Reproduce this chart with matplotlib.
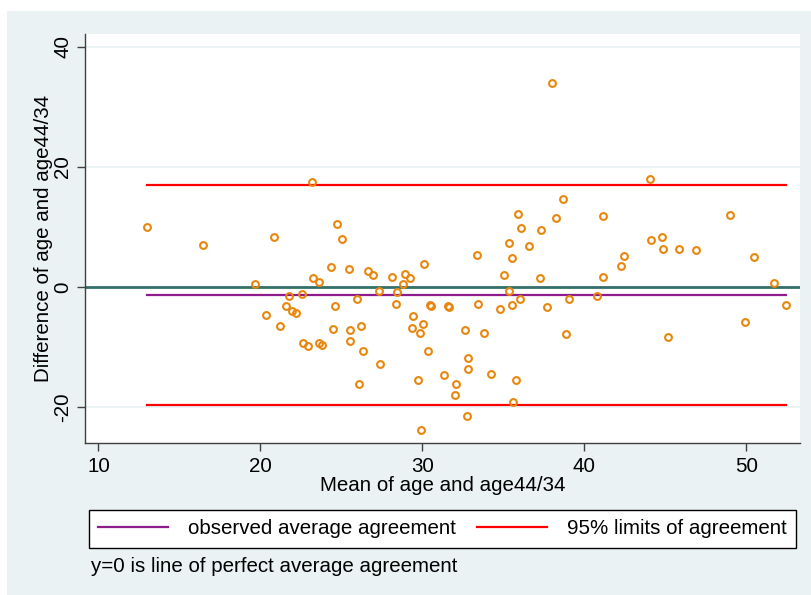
import matplotlib
matplotlib.use("Agg")
import matplotlib.pyplot as plt
from matplotlib.lines import Line2D
from matplotlib.patches import Rectangle

plt.rcParams['font.family'] = ['Liberation Sans', 'DejaVu Sans']
plt.rcParams['axes.unicode_minus'] = False

# Mean of age and age44/34 (x) and difference (y)
mean_vals = [13.0, 16.48, 19.69, 20.33, 20.81, 21.21, 21.58, 21.78, 21.97, 22.17,
             22.55, 22.63, 22.96, 23.17, 23.27, 23.60, 23.62, 23.80, 24.36, 24.50,
             24.59, 24.71, 25.02, 25.49, 25.53, 25.55, 25.98, 26.07, 26.23, 26.35,
             26.66, 26.97, 27.32, 27.38, 28.14, 28.39, 28.43, 28.80, 28.93, 29.25,
             29.40, 29.38, 29.73, 29.85, 29.93, 30.06, 30.08, 30.33, 30.47, 30.56,
             31.36, 31.58, 31.66, 31.99, 32.09, 32.61, 32.75, 32.85, 32.85, 33.37,
             33.43, 33.82, 34.25, 34.79, 35.04, 35.35, 35.35, 35.55, 35.56, 35.59,
             35.76, 35.89, 36.04, 36.10, 36.59, 37.26, 37.32, 37.68, 38.0, 38.27,
             38.66, 38.88, 39.05, 40.78, 41.13, 41.17, 42.28, 42.43, 44.05, 44.09,
             44.79, 44.83, 45.20, 45.86, 46.89, 49.0, 49.91, 50.47, 51.69, 52.44]
diff_vals = [9.95, 7.0, 0.58, -4.70, 8.37, -6.42, -3.22, -1.55, -3.95, -4.37,
             -1.13, -9.28, -9.88, 17.55, 1.45, 0.78, -9.25, -9.67, 3.28, -7.0,
             -3.22, 10.55, 7.95, 3.0, -9.0, -7.17, -2.0, -16.17, -6.5, -10.67,
             2.62, 2.0, -0.67, -12.87, 1.72, -2.8, -0.88, 0.45, 2.12, 1.55,
             -4.87, -6.83, -15.42, -7.67, -23.88, -6.17, 3.83, -10.67, -2.92, -3.17,
             -14.7, -3.12, -3.33, -18.0, -16.17, -7.13, -21.5, -11.75, -13.72, 5.28,
             -2.83, -7.67, -14.42, -3.62, 1.95, 7.33, -0.67, 4.88, -3.08, -19.13,
             -15.55, 12.2, -2.05, 9.78, 6.87, 1.47, 9.42, -3.38, 34.0, 11.53,
             14.72, -7.83, -2.05, -1.45, 11.8, 1.62, 3.5, 5.12, 17.95, 7.83,
             8.38, 6.38, -8.33, 6.28, 6.17, 11.95, -5.88, 5.0, 0.62, -2.95]

mean_diff = -1.35
lower_loa = -19.65
upper_loa = 16.95

x_ticks = [10, 20, 30, 40, 50]
y_ticks = [-20, 0, 20, 40]

x_label = "Mean of age and age44/34"
y_label = "Difference of age and age44/34"
legend_labels = ["observed average agreement", "95% limits of agreement"]
note_text = "y=0 is line of perfect average agreement"

FS = 14.8
W, H = 812, 595
fig = plt.figure(figsize=(W / 100, H / 100), dpi=100, facecolor='white')
bg = '#EAF2F3'
fig.patches.append(Rectangle((7 / W, 0), (W - 7) / W, (H - 11) / H,
                             transform=fig.transFigure, facecolor=bg,
                             edgecolor='none', zorder=-10))

ax = fig.add_axes([85 / W, 1 - 443.3 / H, 715 / W, 409.8 / H])
ax.set_zorder(1)
ax.set_facecolor('white')
ax.set_xlim(9.17, 53.32)
ax.set_ylim(-26.05, 42.25)

for yt in y_ticks:
    ax.axhline(yt, color=bg, lw=1.3, zorder=1)
ax.axhline(0, color='#35706A', lw=2.0, zorder=2)

xmin, xmax = min(mean_vals), max(mean_vals)
ax.plot([xmin, xmax], [upper_loa, upper_loa], color='#FF0000', lw=1.6, zorder=3)
ax.plot([xmin, xmax], [lower_loa, lower_loa], color='#FF0000', lw=1.6, zorder=3)
ax.plot([xmin, xmax], [mean_diff, mean_diff], color='#8E1B8C', lw=1.6, zorder=3)

ax.plot(mean_vals, diff_vals, linestyle='none', marker='o', markersize=4.9,
        markerfacecolor='none', markeredgecolor='#E8870E', markeredgewidth=1.5,
        zorder=4)

for s in ['top', 'right']:
    ax.spines[s].set_visible(False)
for s in ['left', 'bottom']:
    ax.spines[s].set_color('#404040')
    ax.spines[s].set_linewidth(1.0)

ax.set_xticks(x_ticks)
ax.set_yticks(y_ticks)
ax.tick_params(axis='both', direction='out', length=6, width=1.0,
               color='#404040', labelsize=FS, labelcolor='black')
ax.tick_params(axis='x', pad=4)
ax.tick_params(axis='y', pad=3)
for lab in ax.get_yticklabels():
    lab.set_rotation(90)
    lab.set_va('center')

ax.set_xlabel(x_label, fontsize=FS, labelpad=0)
ax.set_ylabel(y_label, fontsize=FS, labelpad=0)

handles = [Line2D([], [], color='#8E1B8C', lw=1.6),
           Line2D([], [], color='#FF0000', lw=1.6)]
leg = fig.legend(handles, legend_labels, loc='center', ncol=2,
                 bbox_to_anchor=(442.5 / W, 1 - 528.8 / H),
                 fontsize=FS, frameon=True, fancybox=False, framealpha=1,
                 edgecolor='black', facecolor='white', handlelength=3.4,
                 handletextpad=0.95, columnspacing=1.05, borderpad=0.45,
                 borderaxespad=0)
leg.get_frame().set_linewidth(1.0)

fig.text(90.6 / W, 1 - 566.7 / H, note_text, fontsize=FS, va='center', ha='left')

fig.savefig('out.png', dpi=100, facecolor='white')
